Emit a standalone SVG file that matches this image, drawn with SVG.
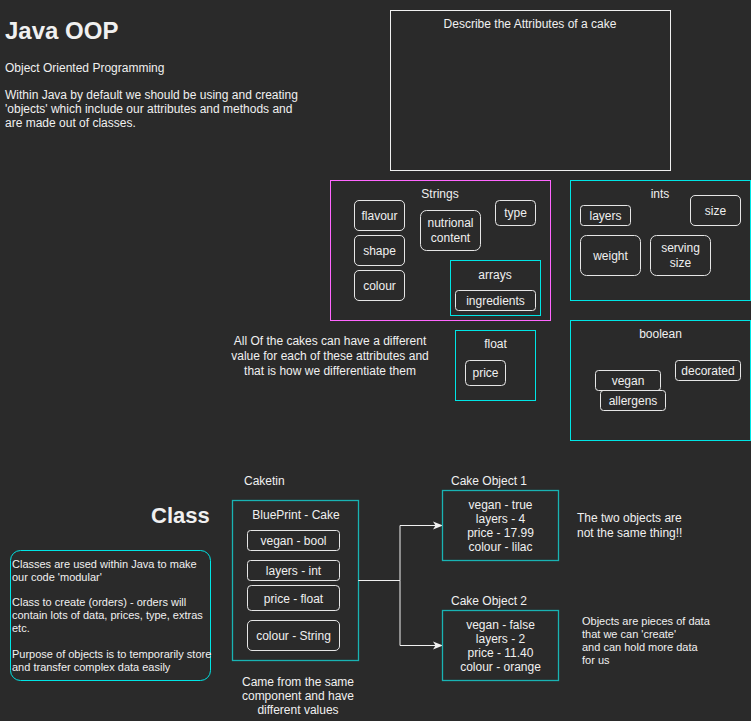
<svg xmlns="http://www.w3.org/2000/svg" width="751" height="721" viewBox="0 0 751 721">
<style>
text{font-family:"Liberation Sans",Arial,sans-serif;fill:#f0f0f0;font-size:12px}
.c{text-anchor:middle}
.n{fill:none;stroke:#e6e6e6;stroke-width:1}
.cy{fill:none;stroke:#00e5e5;stroke-width:1}
.tl{fill:none;stroke:#19b3b3;stroke-width:1.3}
.mg{fill:none;stroke:#ff66ff;stroke-width:1}
.wb{fill:none;stroke:#f0f0f0;stroke-width:1}
.s11{font-size:11px}
.b{font-weight:bold}
.edge{fill:none;stroke:#f0f0f0;stroke-width:1}
</style>
<defs>
<marker id="arr" markerWidth="10" markerHeight="10" refX="9" refY="5" orient="auto" markerUnits="userSpaceOnUse">
<path d="M0,1 L10,5 L0,9 L2.5,5 Z" fill="#f0f0f0"/>
</marker>
</defs>
<rect width="751" height="721" fill="#2a2a2a"/>

<g id="title">
<text x="5" y="39" class="b" style="font-size:24px">Java OOP</text>
<text x="5" y="72">Object Oriented Programming</text>
<text x="5" y="99">Within Java by default we should be using and creating</text>
<text x="5" y="113">'objects' which include our attributes and methods and</text>
<text x="5" y="127">are made out of classes.</text>
</g>

<g id="describe">
<rect x="390.5" y="10.5" width="280" height="160" class="wb"/>
<text x="530" y="28" class="c">Describe the Attributes of a cake</text>
</g>

<g id="strings">
<rect x="330.5" y="180.5" width="220" height="140" class="mg"/>
<text x="440" y="198" class="c">Strings</text>
</g>
<g id="flavour"><rect x="354.5" y="200.5" width="50" height="30" rx="4.5" class="n"/><text x="379.5" y="219.5" class="c">flavour</text></g>
<g id="shape"><rect x="354.5" y="235.5" width="50" height="30" rx="4.5" class="n"/><text x="379.5" y="254.5" class="c">shape</text></g>
<g id="colour"><rect x="354.5" y="270.5" width="50" height="30" rx="4.5" class="n"/><text x="379.5" y="289.5" class="c">colour</text></g>
<g id="nutrional"><rect x="420.5" y="210.5" width="60" height="40" rx="6" class="n"/><text x="450.5" y="227" class="c">nutrional</text><text x="450.5" y="241.5" class="c">content</text></g>
<g id="type"><rect x="495.5" y="200.5" width="40" height="25" rx="4" class="n"/><text x="515.5" y="217" class="c">type</text></g>
<g id="arrays">
<rect x="450.5" y="260.5" width="90" height="55" class="cy"/>
<text x="495" y="278.5" class="c">arrays</text>
</g>
<g id="ingredients"><rect x="455.5" y="290.5" width="80" height="20" rx="3" class="n"/><text x="495.5" y="304.5" class="c">ingredients</text></g>

<g id="ints">
<rect x="570.5" y="180.5" width="180" height="120" class="cy"/>
<text x="660" y="197.5" class="c">ints</text>
</g>
<g id="layers"><rect x="580.5" y="205.5" width="50" height="20" rx="3" class="n"/><text x="605.5" y="219.5" class="c">layers</text></g>
<g id="size"><rect x="690.5" y="195.5" width="50" height="30" rx="4.5" class="n"/><text x="715.5" y="214.5" class="c">size</text></g>
<g id="weight"><rect x="580.5" y="235.5" width="60" height="40" rx="6" class="n"/><text x="610.5" y="259.5" class="c">weight</text></g>
<g id="serving"><rect x="650.5" y="235.5" width="60" height="40" rx="6" class="n"/><text x="680.5" y="252" class="c">serving</text><text x="680.5" y="266.5" class="c">size</text></g>

<g id="note-attrs">
<text x="330" y="345" class="c">All Of the cakes can have a different</text>
<text x="330" y="360" class="c">value for each of these attributes and</text>
<text x="330" y="374.5" class="c">that is how we differentiate them</text>
</g>

<g id="float">
<rect x="455.5" y="330.5" width="80" height="70" class="cy"/>
<text x="495.5" y="348" class="c">float</text>
</g>
<g id="price"><rect x="465.5" y="360.5" width="40" height="25" rx="4" class="n"/><text x="485.5" y="377" class="c">price</text></g>

<g id="boolean">
<rect x="570.5" y="320.5" width="180" height="120" class="cy"/>
<text x="660.5" y="337.5" class="c">boolean</text>
</g>
<g id="vegan"><rect x="595.5" y="370.5" width="65" height="20" rx="3" class="n"/><text x="628" y="384.5" class="c">vegan</text></g>
<g id="allergens"><rect x="600.5" y="390.5" width="65" height="20" rx="3" class="n"/><text x="633" y="404.5" class="c">allergens</text></g>
<g id="decorated"><rect x="675.5" y="360.5" width="65" height="20" rx="3" class="n"/><text x="708" y="374.5" class="c">decorated</text></g>

<g id="class-title"><text x="151" y="523" class="b" style="font-size:22px">Class</text></g>

<g id="classes-note">
<rect x="10.5" y="550.5" width="200" height="130" rx="10" class="cy"/>
<text x="12" y="567.5" class="s11">Classes are used within Java to make</text>
<text x="12" y="580.5" class="s11">our code 'modular'</text>
<text x="12" y="606" class="s11">Class to create (orders) - orders will</text>
<text x="12" y="619" class="s11">contain lots of data, prices, type, extras</text>
<text x="12" y="632" class="s11">etc.</text>
<text x="12" y="658" class="s11">Purpose of objects is to temporarily store</text>
<text x="12" y="671" class="s11">and transfer complex data easily</text>
</g>

<g id="caketin"><text x="244" y="485">Caketin</text></g>

<g id="blueprint">
<rect x="232.5" y="500.5" width="126" height="160" class="tl"/>
<text x="296" y="518.5" class="c">BluePrint - Cake</text>
</g>
<g id="bp-vegan"><rect x="247.5" y="530.5" width="92" height="20" rx="3" class="n"/><text x="293.5" y="545" class="c">vegan - bool</text></g>
<g id="bp-layers"><rect x="247.5" y="560.5" width="92" height="20" rx="3" class="n"/><text x="293.5" y="575" class="c">layers - int</text></g>
<g id="bp-price"><rect x="247.5" y="585.5" width="92" height="25" rx="3.75" class="n"/><text x="293.5" y="602.5" class="c">price - float</text></g>
<g id="bp-colour"><rect x="247.5" y="620.5" width="92" height="30" rx="4.5" class="n"/><text x="293.5" y="640" class="c">colour - String</text></g>

<g id="came-from">
<text x="298" y="685.5" class="c">Came from the same</text>
<text x="298" y="699.5" class="c">component and have</text>
<text x="298" y="713.5" class="c">different values</text>
</g>

<g id="connectors">
<path d="M358.5,580.5 H400 V525.5 H442" class="edge" marker-end="url(#arr)"/>
<path d="M358.5,580.5 H400 V645.5 H442" class="edge" marker-end="url(#arr)"/>
</g>

<g id="object1">
<text x="451" y="485">Cake Object 1</text>
<rect x="442.5" y="490.5" width="116" height="70" class="tl"/>
<text x="500.5" y="508.5" class="c">vegan - true</text>
<text x="500.5" y="522.5" class="c">layers - 4</text>
<text x="500.5" y="537" class="c">price - 17.99</text>
<text x="500.5" y="551" class="c">colour - lilac</text>
</g>

<g id="object2">
<text x="451" y="605">Cake Object 2</text>
<rect x="442.5" y="610.5" width="116" height="70" class="tl"/>
<text x="500.5" y="628.5" class="c">vegan - false</text>
<text x="500.5" y="642.5" class="c">layers - 2</text>
<text x="500.5" y="657" class="c">price - 11.40</text>
<text x="500.5" y="671" class="c">colour - orange</text>
</g>

<g id="note-objects">
<text x="577" y="521.5">The two objects are</text>
<text x="577" y="536.5">not the same thing!!</text>
</g>
<g id="note-pieces">
<text x="582" y="625" class="s11">Objects are pieces of data</text>
<text x="582" y="638" class="s11">that we can 'create'</text>
<text x="582" y="651" class="s11">and can hold more data</text>
<text x="582" y="664" class="s11">for us</text>
</g>
</svg>
